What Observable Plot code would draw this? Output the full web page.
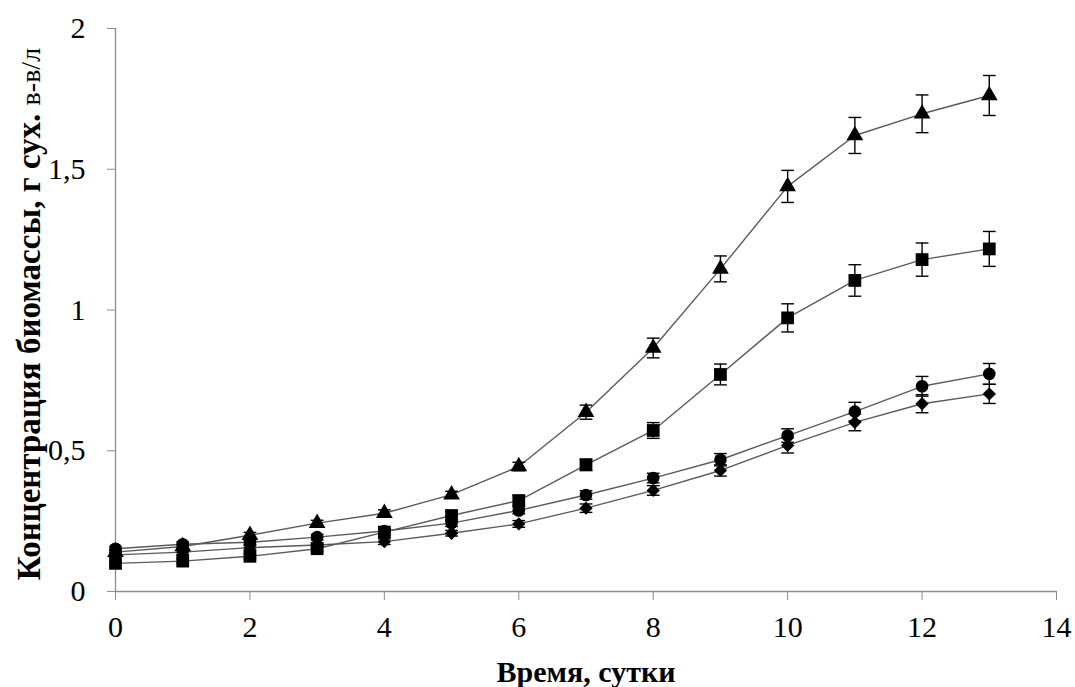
<!DOCTYPE html>
<html>
<head>
<meta charset="utf-8">
<script src="https://cdn.jsdelivr.net/npm/d3@7"></script>
<script src="https://cdn.jsdelivr.net/npm/@observablehq/plot@0.6"></script>
<style>
  body { margin: 0; background: #fff; }
  #chart svg { display: block; }
  #chart svg, #chart svg text, #chart svg tspan {
    font-family: "Times New Roman", Times, "Liberation Serif", Tinos, "Noto Serif", "DejaVu Serif", serif !important;
  }
</style>
</head>
<body>
<div id="chart"></div>
<script>
// Days (x axis)
const days = [0, 1, 2, 3, 4, 5, 6, 7, 8, 9, 10, 11, 12, 13];

// Series values (g dry matter / L)
const triangleVals = [0.14, 0.16, 0.20, 0.243, 0.278, 0.344, 0.444, 0.637, 0.865, 1.146, 1.439, 1.620, 1.697, 1.762];
const triangleErr  = [0.008, 0.008, 0.01, 0.01, 0.012, 0.012, 0.015, 0.025, 0.035, 0.046, 0.057, 0.064, 0.067, 0.071];

const squareVals = [0.10, 0.108, 0.125, 0.152, 0.211, 0.270, 0.323, 0.450, 0.572, 0.771, 0.972, 1.105, 1.179, 1.217];
const squareErr  = [0.008, 0.008, 0.008, 0.01, 0.012, 0.015, 0.018, 0.02, 0.028, 0.037, 0.05, 0.056, 0.059, 0.062];

const circleVals = [0.152, 0.168, 0.175, 0.193, 0.215, 0.243, 0.288, 0.343, 0.403, 0.468, 0.554, 0.639, 0.729, 0.773];
const circleErr  = [0.008, 0.008, 0.008, 0.01, 0.01, 0.012, 0.012, 0.015, 0.017, 0.022, 0.024, 0.033, 0.035, 0.037];

const diamondVals = [0.13, 0.14, 0.156, 0.165, 0.177, 0.207, 0.240, 0.296, 0.359, 0.430, 0.519, 0.601, 0.667, 0.702];
const diamondErr  = [0.008, 0.008, 0.008, 0.008, 0.01, 0.01, 0.012, 0.015, 0.017, 0.02, 0.027, 0.03, 0.032, 0.034];

// Tick values
const xTicks = [0, 2, 4, 6, 8, 10, 12, 14];
const yTicks = [0, 0.5, 1, 1.5, 2];

// Text
const xTitle = "Время, сутки";
const yTitleMain = "Концентрация биомассы, г сух. ";
const yTitleUnit = "в-в/л";

const seriesDefs = [
  {name: "triangle", symbol: "triangle", r: 6.2, vals: triangleVals, err: triangleErr},
  {name: "square", symbol: "square", r: 7.2, vals: squareVals, err: squareErr},
  {name: "circle", symbol: "circle", r: 6.3, vals: circleVals, err: circleErr},
  {name: "diamond", symbol: "diamond2", r: 6.0, vals: diamondVals, err: diamondErr}
];

const rows = seriesDefs.flatMap(s => days.map((d, i) => ({
  series: s.name, symbol: s.symbol, r: s.r, x: d, y: s.vals[i],
  lo: s.vals[i] - s.err[i], hi: s.vals[i] + s.err[i]
})));

const capHalf = 0.095; // half cap width in day units
const axisColor = "#8c8c8c";
const serif = "'Times New Roman', Times, 'Liberation Serif', Tinos, 'Noto Serif', 'DejaVu Serif', serif";

const plot = Plot.plot({
  width: 1075,
  height: 687,
  marginLeft: 115,
  marginRight: 19,
  marginTop: 28,
  marginBottom: 96,
  style: {fontFamily: serif, fontSize: "30px", color: "#000", background: "#fff"},
  x: {domain: [0, 14], ticks: xTicks},
  y: {domain: [0, 2], ticks: yTicks},
  symbol: {type: "identity"},
  r: {type: "identity"},
  marks: [
    Plot.ruleY([0], {stroke: axisColor, strokeWidth: 1.3}),
    Plot.ruleX([0], {stroke: axisColor, strokeWidth: 1.3}),
    Plot.axisX({ticks: xTicks, tickSize: 9, tickPadding: 15, stroke: axisColor, label: null, fontSize: 30, tickFormat: d => String(d)}),
    Plot.axisY({ticks: yTicks, tickSize: 8, tickPadding: 22, stroke: axisColor, label: null, fontSize: 30, tickFormat: d => String(d).replace(".", ",")}),
    Plot.line(rows, {x: "x", y: "y", z: "series", stroke: "#5a5a5a", strokeWidth: 1.4}),
    Plot.ruleX(rows, {x: "x", y1: "lo", y2: "hi", stroke: "#000", strokeWidth: 1.4}),
    Plot.link(rows, {x1: d => d.x - capHalf, x2: d => d.x + capHalf, y1: "hi", y2: "hi", stroke: "#000", strokeWidth: 1.4}),
    Plot.link(rows, {x1: d => d.x - capHalf, x2: d => d.x + capHalf, y1: "lo", y2: "lo", stroke: "#000", strokeWidth: 1.4}),
    Plot.dot(rows, {x: "x", y: "y", symbol: "symbol", r: "r", fill: "#000", stroke: "none"})
  ]
});

// Axis titles (real text)
const svg = d3.select(plot);
svg.append("text")
  .attr("x", 586)
  .attr("y", 682)
  .attr("text-anchor", "middle")
  .attr("font-weight", "bold")
  .attr("font-size", 30)
  .attr("fill", "#000")
  .text(xTitle);

const yt = svg.append("text")
  .attr("transform", "translate(40,314) rotate(-90)")
  .attr("text-anchor", "middle")
  .attr("font-size", 33)
  .attr("fill", "#000");
yt.append("tspan").attr("font-weight", "bold").text(yTitleMain);
yt.append("tspan").attr("font-weight", "normal").attr("font-size", 28).text(yTitleUnit);

document.getElementById("chart").appendChild(plot);
</script>
</body>
</html>
